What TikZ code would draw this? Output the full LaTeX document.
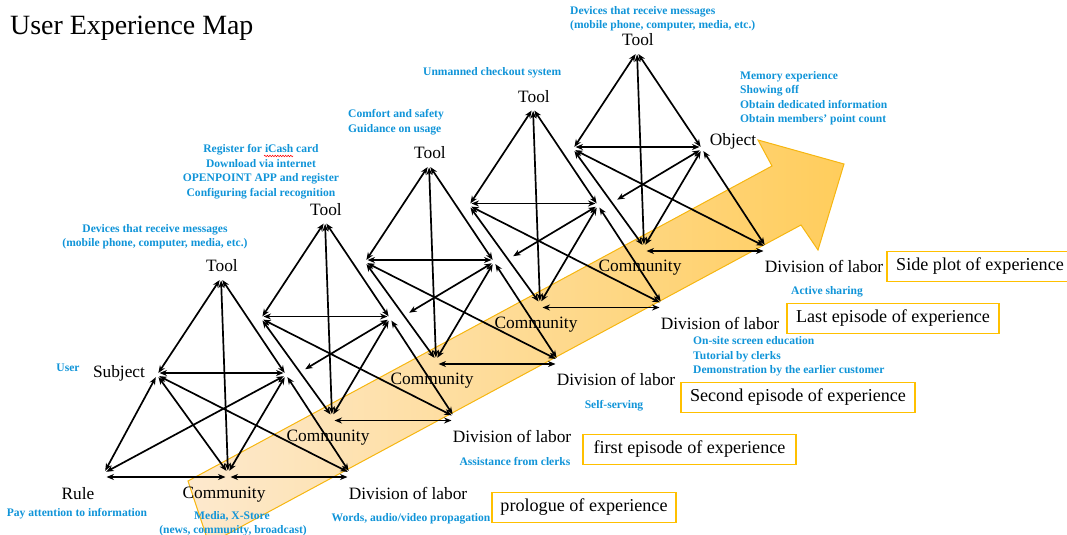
\documentclass[tikz,border=0pt]{standalone}
\usepackage{fontspec}
\setmainfont{Liberation Serif}
\usetikzlibrary{arrows.meta,calc,decorations.pathmorphing}
\definecolor{noteblue}{RGB}{16,148,216}
\definecolor{gold}{RGB}{255,192,0}
\definecolor{bandlight}{RGB}{253,233,206}
\definecolor{banddeep}{RGB}{255,205,92}
\definecolor{bandedge}{RGB}{246,182,16}

\begin{document}
\begin{tikzpicture}[x=1bp,y=-1bp,
  link/.style={line width=1.7bp,
    {Stealth[length=7.5bp,width=6bp]}-{Stealth[length=7.5bp,width=6bp]},
    shorten <=2.5bp, shorten >=2.5bp},
  role/.style={font=\fontsize{17.4}{20}\selectfont, inner sep=0pt, anchor=base},
  note/.style={font=\fontsize{11.6}{14}\selectfont\bfseries, text=noteblue,
    inner sep=0pt, anchor=base},
  notel/.style={note, anchor=base west},
  phase/.style={draw=gold, line width=1.4bp, fill=white,
    font=\fontsize{18.2}{21}\selectfont, inner sep=0pt,
    minimum height=30bp, anchor=center},
]
\useasboundingbox (0,0) rectangle (1067,535);
\clip (0,0) rectangle (1067,535);

% progress arrow behind the activity systems
\shadedraw[left color=bandlight, right color=banddeep, draw=bandedge, line width=1bp]
  (188,481) -- (772,166) -- (758,140) -- (844,164) -- (818,250)
  -- (801,225) -- (209,544) -- cycle;

% vertices of the five activity systems
\foreach \k in {0,...,4} {
  \begin{scope}[shift={(104*\k,-56.5*\k)}]
    \coordinate (t\k) at (221,278);
    \coordinate (s\k) at (157,375);
    \coordinate (o\k) at (286,375);
    \coordinate (c\k) at (228,473);
    \coordinate (d\k) at (350,473);
    \coordinate (r\k) at (199,427);
  \end{scope}
}
\coordinate (rule0) at (104,473);

% connectors shared by every system
\foreach \k in {0,...,4} {
  \draw[link] (t\k) -- (s\k);
  \draw[link] (t\k) -- (c\k);
  \draw[link] (t\k) -- (o\k);
  \draw[link] ($(s\k)+(0,-2)$) -- ($(o\k)+(0,-2)$);
  \draw[link] (s\k) -- (c\k);
  \draw[link] (s\k) -- (d\k);
  \draw[link] (o\k) -- (c\k);
  \draw[link] (o\k) -- (d\k);
  \draw[link] ($(c\k)+(0,4)$) -- ($(d\k)+(0,4)$);
}
% rule connectors
\draw[link] (s0) -- (rule0);
\draw[link] (o0) -- (rule0);
\draw[link] ($(rule0)+(0,4)$) -- ($(c0)+(0,4)$);
\foreach \k in {1,...,4} {
  \draw[link] (o\k) -- (r\k);
}

% title
\node[anchor=base west, font=\fontsize{28}{32}\selectfont, inner sep=0pt]
  (title) at (10,35) {User Experience Map};

% element names
\foreach \k in {0,...,4} {
  \node[role] (tool\k) at ($(t\k)+(1,-6)$) {Tool};
  \node[role] (comm\k) at ($(c\k)+(-4,25)$) {Community};
  \node[role] (div\k) at ($(d\k)+(58,26)$) {Division of labor};
}
\node[role] (subject) at (119,378) {Subject};
\node[role] (object) at (733,146) {Object};
\node[role] (rule) at (78,499) {Rule};

% annotations
\node[note] (n1a) at (155,233) {Devices that receive messages};
\node[note] (n1b) at (155,247) {(mobile phone, computer, media, etc.)};
\node[note] (n2a) at (261,153) {Register for iCash card};
\node[note] (n2b) at (261,168) {Download via internet};
\node[note] (n2c) at (261,182) {OPENPOINT APP and register};
\node[note] (n2d) at (261,197) {Configuring facial recognition};
\draw[red, line width=0.5bp, decorate,
  decoration={snake, amplitude=0.8bp, segment length=2.6bp}]
  (264,156) -- (293,156);
\node[notel] (n3a) at (348,118) {Comfort and safety};
\node[notel] (n3b) at (348,133) {Guidance on usage};
\node[notel] (n4) at (423,76) {Unmanned checkout system};
\node[notel] (n5a) at (570,15) {Devices that receive messages};
\node[notel] (n5b) at (570,29) {(mobile phone, computer, media, etc.)};
\node[notel] (n6a) at (740,80) {Memory experience};
\node[notel] (n6b) at (740,94) {Showing off};
\node[notel] (n6c) at (740,109) {Obtain dedicated information};
\node[notel] (n6d) at (740,123) {Obtain members’ point count};
\node[note] (n7) at (68,372) {User};
\node[note] (n8) at (77,516) {Pay attention to information};
\node[note] (n9a) at (232,519) {Media, X-Store};
\node[note] (n9b) at (233,533) {(news, community, broadcast)};
\node[note] (n10) at (411,521) {Words, audio/video propagation};
\node[note] (n11) at (515,465) {Assistance from clerks};
\node[note] (n12) at (614,408) {Self-serving};
\node[notel] (n13a) at (693,345) {On-site screen education};
\node[notel] (n13b) at (693,360) {Tutorial by clerks};
\node[notel] (n13c) at (693,374) {Demonstration by the earlier customer};
\node[note] (n14) at (827,295) {Active sharing};

% episode boxes
\node[phase, minimum width=184bp] (ep0) at (584,507.5) {prologue of experience};
\node[phase, minimum width=213bp] (ep1) at (689.5,449.5) {first episode of experience};
\node[phase, minimum width=234bp] (ep2) at (798,397.5) {Second episode of experience};
\node[phase, minimum width=212bp] (ep3) at (893,318.5) {Last episode of experience};
\node[phase, minimum width=186bp] (ep4) at (980,266.5) {Side plot of experience};
\end{tikzpicture}
\end{document}
